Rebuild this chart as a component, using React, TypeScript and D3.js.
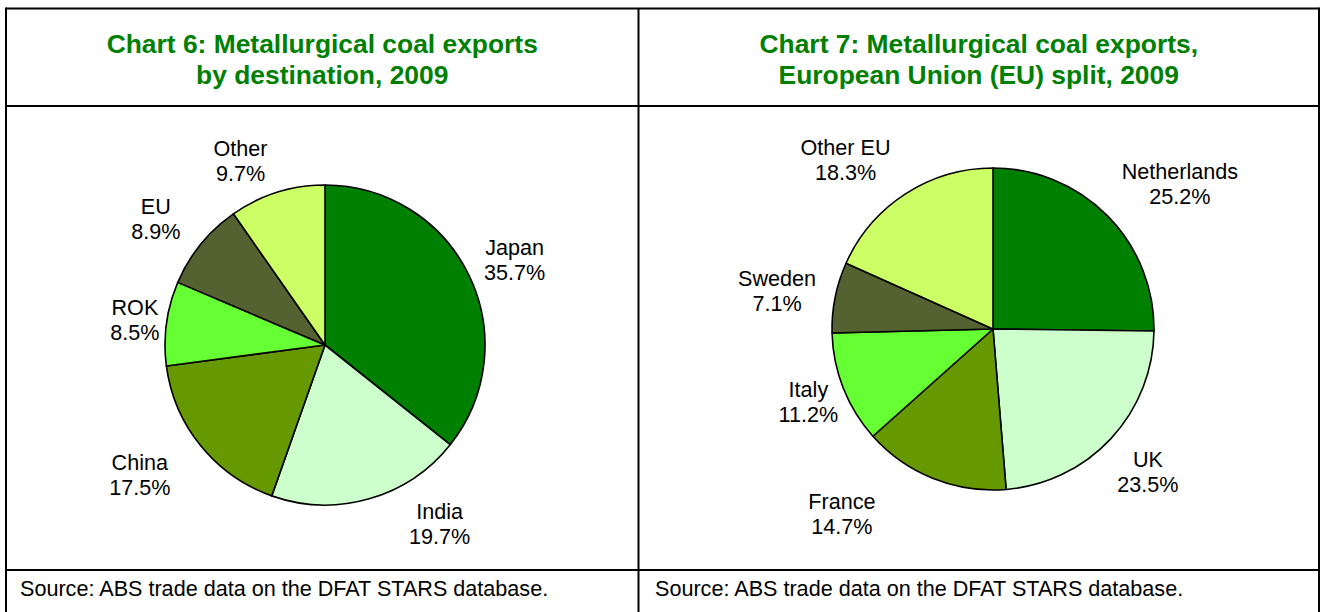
import React from "react";
import * as d3 from "d3";

// ---- Data ----
const chart6Title = ["Chart 6: Metallurgical coal exports", "by destination, 2009"];
const chart6Labels = ["Japan", "India", "China", "ROK", "EU", "Other"];
const chart6Values = [35.7, 19.7, 17.5, 8.5, 8.9, 9.7];

const chart7Title = ["Chart 7: Metallurgical coal exports,", "European Union (EU) split, 2009"];
const chart7Labels = ["Netherlands", "UK", "France", "Italy", "Sweden", "Other EU"];
const chart7Values = [25.2, 23.5, 14.7, 11.2, 7.1, 18.3];

const sourceText = "Source: ABS trade data on the DFAT STARS database.";

// ---- Styles / layout ----
const sliceColors = ["#008000", "#CCFFCC", "#669900", "#66FF33", "#536230", "#CCFF66"];
const titleColor = "#008000";
const FONT = "Arial, 'Liberation Sans', Helvetica, sans-serif";
const labelFont = 21.6;
const titleFont = 26.4;

// label nudges (px) relative to the radial anchor
const chart6Nudge: [number, number][] = [[5, 4], [58, -18], [-26, 1], [13, 3], [-10, 3], [-23, 11]];
const chart7Nudge: [number, number][] = [[41, -1], [5, 3], [-75, -5], [6, -3], [-15, 2], [-36, 3]];

type PieProps = {
  cx: number;
  cy: number;
  r: number;
  labels: string[];
  values: number[];
  nudges: [number, number][];
};

function Pie({ cx, cy, r, labels, values, nudges }: PieProps) {
  const pie = d3.pie<number>().sort(null).value((d) => d);
  const arcs = pie(values);
  const arcGen = d3.arc<d3.PieArcDatum<number>>().innerRadius(0).outerRadius(r);
  const labelR = 205;
  return (
    <g transform={`translate(${cx},${cy})`}>
      {arcs.map((a, i) => (
        <path key={i} d={arcGen(a) || ""} fill={sliceColors[i]} stroke="#000" strokeWidth={1.6} strokeLinejoin="round" />
      ))}
      {arcs.map((a, i) => {
        const mid = (a.startAngle + a.endAngle) / 2;
        const x = Math.sin(mid) * labelR + nudges[i][0];
        const y = -Math.cos(mid) * labelR + nudges[i][1];
        return (
          <text key={"l" + i} x={x} y={y} textAnchor="middle" fontFamily={FONT} fontSize={labelFont} fill="#000">
            <tspan x={x} y={y - 12.5 + labelFont * 0.35}>{labels[i]}</tspan>
            <tspan x={x} y={y + 12.5 + labelFont * 0.35}>{values[i].toFixed(1)}%</tspan>
          </text>
        );
      })}
    </g>
  );
}

export default function App() {
  const W = 1320;
  const H = 612;
  const left = 6;
  const right = 1319;
  const top = 8.5;
  const divX = 638.5;
  const titleLineY = 106;
  const sourceLineY = 570;
  const c6x = (left + divX) / 2;
  const c7x = (divX + right) / 2;
  return (
    <svg width={W} height={H} style={{ position: "absolute", left: 0, top: 0, background: "#fff" }}>
      <rect x={0} y={0} width={W} height={H} fill="#fff" />
      {/* titles */}
      {[chart6Title, chart7Title].map((t, k) => (
        <text key={k} textAnchor="middle" fontFamily={FONT} fontWeight="bold" fontSize={titleFont} fill={titleColor}>
          <tspan x={k === 0 ? c6x : c7x} y={53}>{t[0]}</tspan>
          <tspan x={k === 0 ? c6x : c7x} y={84}>{t[1]}</tspan>
        </text>
      ))}
      <Pie cx={325} cy={345} r={160} labels={chart6Labels} values={chart6Values} nudges={chart6Nudge} />
      <Pie cx={993} cy={329} r={161} labels={chart7Labels} values={chart7Values} nudges={chart7Nudge} />
      {/* source */}
      <text x={20} y={596} fontFamily={FONT} fontSize={labelFont} fill="#000">{sourceText}</text>
      <text x={655} y={596} fontFamily={FONT} fontSize={labelFont} fill="#000">{sourceText}</text>
      {/* table lines */}
      <g stroke="#000" strokeWidth={2} fill="none">
        <line x1={left} y1={top} x2={right} y2={top} />
        <line x1={left} y1={top - 1} x2={left} y2={H + 5} />
        <line x1={right} y1={top - 1} x2={right} y2={H + 5} />
        <line x1={divX} y1={top} x2={divX} y2={H + 5} />
        <line x1={left} y1={titleLineY} x2={right} y2={titleLineY} />
        <line x1={left} y1={sourceLineY} x2={right} y2={sourceLineY} />
      </g>
    </svg>
  );
}
